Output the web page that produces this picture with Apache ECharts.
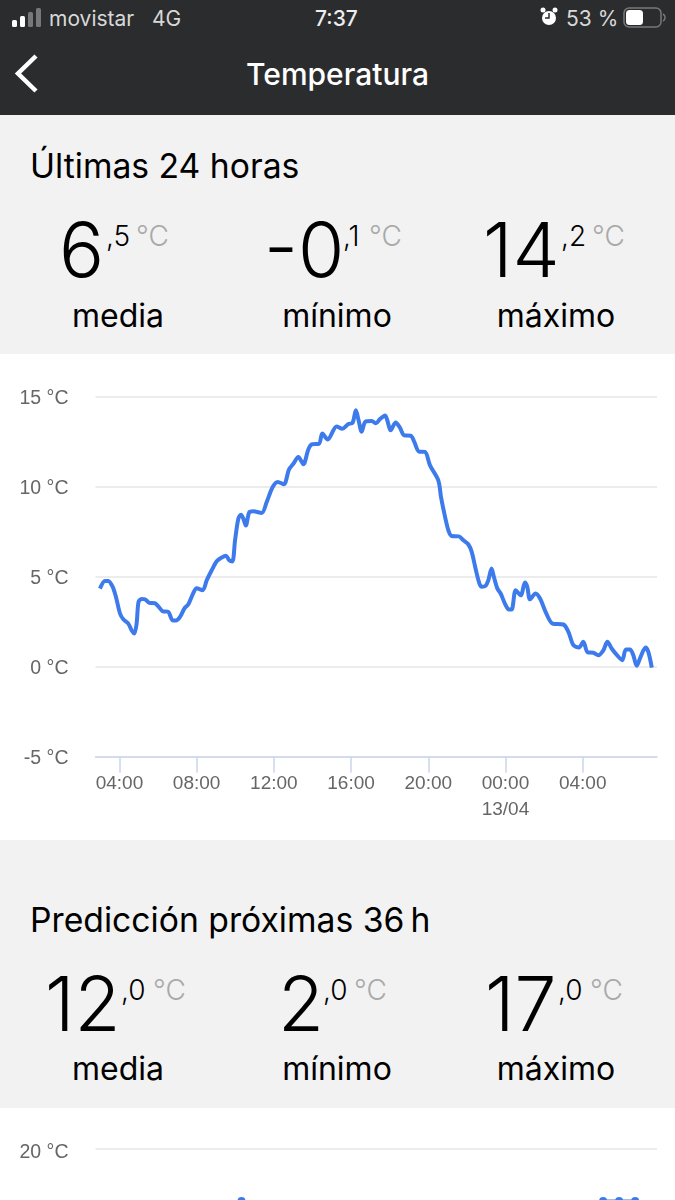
<!DOCTYPE html>
<html>
<head>
<meta charset="utf-8">
<title>Temperatura</title>
<script src="https://cdn.jsdelivr.net/npm/echarts@6/dist/echarts.min.js"></script>
<style>
html, body { margin: 0; padding: 0; }
body { position: relative; width: 675px; height: 1200px; overflow: hidden; background: #fff; font-family: Inter, Roboto, sans-serif; color: #000; }
.band { position: absolute; left: 0; width: 675px; background: #f2f2f2; }
.t { position: absolute; white-space: nowrap; line-height: 1; }
.bar { position: absolute; left: 0; top: 0; width: 675px; height: 115px; background: #2b2c2e; color: #fff; }
.status { font-size: 21px; color: #d8d8d8; }
.heading { left: 30px; font-size: 33.7px; font-weight: 430; }
.big { font-size: 75px; font-weight: 300; }
.small { font-size: 28px; font-weight: 300; }
.unit { font-size: 28px; font-weight: 300; color: #a9a9a9; }
.lab { font-size: 32px; width: 200px; text-align: center; }
#chart1 { position: absolute; left: 0; top: 354px; width: 675px; height: 486px; }
#chart2 { position: absolute; left: 0; top: 1108px; width: 675px; height: 460px; }
</style>
</head>
<body>
<div class="bar">
    <svg style="position:absolute;left:0;top:0" width="675" height="115">
        <rect x="12" y="20" width="5" height="7" rx="1.5" fill="#fff"/>
        <rect x="20" y="16" width="5" height="11" rx="1.5" fill="#fff"/>
        <rect x="28" y="12" width="5" height="15" rx="1.5" fill="#77787a"/>
        <rect x="36" y="8" width="5" height="19" rx="1.5" fill="#77787a"/>
        <path d="M36 56 L18 73.5 L36 91" fill="none" stroke="#fff" stroke-width="4.5"/>
        <circle cx="549" cy="18" r="7" fill="#fff"/>
        <path d="M549 13 V18 H545" fill="none" stroke="#2b2c2e" stroke-width="1.5"/>
        <circle cx="543" cy="10" r="2.5" fill="#fff"/>
        <circle cx="555" cy="10" r="2.5" fill="#fff"/>
        <rect x="624" y="8" width="37" height="19" rx="5" fill="none" stroke="#77787a" stroke-width="1.5"/>
        <rect x="626" y="10" width="17" height="15" rx="3.5" fill="#fff"/>
        <path d="M663 14 a4 4 0 0 1 0 7" fill="none" stroke="#77787a" stroke-width="1.5"/>
    </svg>
    <div class="t status" style="left:49px;top:8px">movistar</div>
    <div class="t status" style="left:152px;top:8px">4G</div>
    <div class="t status" style="left:315px;top:8px;font-weight:500;color:#eee">7:37</div>
    <div class="t status" style="left:566px;top:8px">53 %</div>
    <div class="t" style="left:0;width:675px;text-align:center;top:59px;font-size:30px;font-weight:500">Temperatura</div>
</div>

<div class="band" style="top:115px;height:239px"></div>
<div class="t heading" style="top:149px">Últimas 24 horas</div>
<div class="t big" style="left:59px;top:212px">6</div>
<div class="t small" style="left:106px;top:222px">,5</div>
<div class="t unit" style="left:136px;top:222px">°C</div>
<div class="t big" style="left:264px;top:212px">-0</div>
<div class="t small" style="left:343px;top:222px">,1</div>
<div class="t unit" style="left:369px;top:222px">°C</div>
<div class="t big" style="left:483px;top:212px">14</div>
<div class="t small" style="left:561px;top:222px">,2</div>
<div class="t unit" style="left:592px;top:222px">°C</div>
<div class="t lab" style="left:18px;top:300px">media</div>
<div class="t lab" style="left:237px;top:300px">mínimo</div>
<div class="t lab" style="left:456px;top:300px">máximo</div>

<div id="chart1"></div>

<div class="band" style="top:840px;height:268px"></div>
<div class="t heading" style="top:903px">Predicción próximas 36&thinsp;h</div>
<div class="t big" style="left:45px;top:966px">12</div>
<div class="t small" style="left:121px;top:976px">,0</div>
<div class="t unit" style="left:153px;top:976px">°C</div>
<div class="t big" style="left:278px;top:966px">2</div>
<div class="t small" style="left:323px;top:976px">,0</div>
<div class="t unit" style="left:354px;top:976px">°C</div>
<div class="t big" style="left:485px;top:966px">17</div>
<div class="t small" style="left:558px;top:976px">,0</div>
<div class="t unit" style="left:590px;top:976px">°C</div>
<div class="t lab" style="left:18px;top:1053px">media</div>
<div class="t lab" style="left:237px;top:1053px">mínimo</div>
<div class="t lab" style="left:456px;top:1053px">máximo</div>

<div id="chart2"></div>

<script>
// ultimas 24 horas (hours counted from 00:00 of the first day)
var pastHours = [2.99, 3.25, 3.42, 3.65, 3.82, 4.03, 4.20, 4.46, 4.63, 4.77, 4.89, 4.99, 5.15, 5.32, 5.55, 5.84, 6.01, 6.24, 6.53, 6.74,
    6.93, 7.14, 7.36, 7.57, 7.83, 8.00, 8.31, 8.52, 8.78, 9.04, 9.29, 9.52, 9.69, 9.85, 9.99, 10.16, 10.30, 10.42, 10.55, 10.73,
    10.93, 11.37, 11.63, 11.94, 12.20, 12.52, 12.78, 13.01, 13.27, 13.53, 13.78, 13.96, 14.34, 14.51, 14.79, 15.25, 15.55, 15.86, 16.08, 16.25,
    16.39, 16.55, 16.74, 17.07, 17.29, 17.50, 17.76, 17.88, 18.05, 18.31, 18.53, 18.76, 19.09, 19.28, 19.52, 19.83, 20.09, 20.52, 20.66, 20.87,
    21.04, 21.21, 21.59, 21.82, 22.07, 22.25, 22.47, 22.65, 22.77, 22.97, 23.11, 23.28, 23.40, 23.58, 23.75, 23.97, 24.18, 24.32, 24.53, 24.79,
    25.01, 25.13, 25.27, 25.56, 25.79, 26.13, 26.44, 27.00, 27.26, 27.52, 27.81, 28.03, 28.26, 28.55, 28.81, 29.07, 29.28, 29.50, 29.85, 30.05,
    30.24, 30.45, 30.62, 30.80, 31.00, 31.26, 31.40, 31.58];
var pastTemps = [4.33, 4.76, 4.76, 4.43, 3.87, 2.95, 2.63, 2.39, 2.02, 1.84, 2.39, 3.59, 3.76, 3.74, 3.54, 3.52, 3.35, 3.08, 3.04, 2.58,
    2.56, 2.76, 3.22, 3.46, 4.09, 4.35, 4.24, 4.79, 5.35, 5.85, 6.05, 6.16, 5.90, 5.83, 7.01, 8.21, 8.43, 8.21, 7.83, 8.58,
    8.62, 8.53, 9.14, 9.97, 10.25, 10.12, 10.93, 11.26, 11.63, 11.23, 12.04, 12.33, 12.37, 12.93, 12.61, 13.33, 13.20, 13.46, 13.53, 14.22,
    13.67, 13.04, 13.59, 13.63, 13.50, 13.74, 13.94, 13.66, 13.11, 13.54, 13.26, 12.83, 12.81, 12.46, 11.93, 11.91, 11.17, 10.34, 9.41, 8.31,
    7.57, 7.25, 7.23, 7.01, 6.79, 6.37, 5.35, 4.61, 4.43, 4.48, 4.79, 5.44, 4.98, 4.33, 4.06, 3.50, 3.17, 3.17, 4.24, 3.96,
    4.67, 4.43, 3.74, 4.06, 3.78, 2.91, 2.39, 2.34, 1.93, 1.19, 1.06, 1.38, 0.79, 0.77, 0.64, 0.91, 1.38, 1.01, 0.55, 0.36,
    0.95, 0.95, 0.64, 0.05, 0.55, 1.06, 0.82, -0.05];
var hourTicks = [4, 8, 12, 16, 20, 24, 28];
var hourLabels = ['04:00', '08:00', '12:00', '16:00', '20:00', '00:00\n13/04', '04:00'];

// prediccion: only the tops of the curve are in the picture
var nextHours = [7.1, 8.1, 9.1, 10.1, 11.1, 29.64, 30.64, 31.64, 32.64, 33.64, 34.64];
var nextTemps = [15, 16, 17, 16, 15, 15, 16, 17, 17, 17, 16];

var blue = '#3d7bec';
var gridColor = '#e6e6e6';
var labelFont = { color: '#666666', fontFamily: '"Liberation Sans", Arial, sans-serif', fontSize: 19 };

function toPairs(xs, ys) {
    var out = [];
    for (var i = 0; i < xs.length; i++) {
        out.push([xs[i], ys[i]]);
    }
    return out;
}

var chart1 = echarts.init(document.getElementById('chart1'));
chart1.setOption({
    animation: false,
    backgroundColor: '#ffffff',
    grid: { left: 95.5, right: 18, top: 42.3, height: 360.5 },
    xAxis: {
        type: 'value',
        min: 2.76,
        max: 31.85,
        splitLine: { show: false },
        axisLine: { show: true, onZero: false, lineStyle: { color: '#ccd6eb', width: 1.5 } },
        axisTick: { show: true, length: 16, customValues: hourTicks, lineStyle: { color: '#ccd6eb', width: 1.5 } },
        axisLabel: {
            show: true,
            customValues: hourTicks,
            margin: 14,
            lineHeight: 26,
            color: labelFont.color,
            fontFamily: labelFont.fontFamily,
            fontSize: labelFont.fontSize,
            formatter: function(value) {
                return hourLabels[hourTicks.indexOf(value)];
            }
        }
    },
    yAxis: {
        type: 'value',
        min: -5,
        max: 15,
        interval: 5,
        axisLine: { show: false },
        axisTick: { show: false },
        splitLine: { lineStyle: { color: gridColor, width: 1.5 } },
        axisLabel: {
            margin: 27,
            verticalAlign: 'top',
            lineHeight: 4,
            color: labelFont.color,
            fontFamily: labelFont.fontFamily,
            fontSize: 19.5,
            formatter: '{value} °C'
        }
    },
    series: [{
        name: 'Temperatura',
        type: 'line',
        data: toPairs(pastHours, pastTemps),
        smooth: 0.3,
        showSymbol: false,
        lineStyle: { color: blue, width: 4 }
    }]
});

var chart2 = echarts.init(document.getElementById('chart2'));
chart2.setOption({
    animation: false,
    backgroundColor: '#ffffff',
    grid: { left: 95.5, right: 18, top: 40.5, height: 350 },
    xAxis: { type: 'value', min: 0, max: 35, show: false },
    yAxis: {
        type: 'value',
        min: 0,
        max: 20,
        interval: 5,
        axisLine: { show: false },
        axisTick: { show: false },
        splitLine: { lineStyle: { color: gridColor, width: 1.5 } },
        axisLabel: {
            margin: 27,
            verticalAlign: 'top',
            lineHeight: 8,
            color: labelFont.color,
            fontFamily: labelFont.fontFamily,
            fontSize: 19.5,
            formatter: '{value} °C'
        }
    },
    series: [{
        name: 'Predicción',
        type: 'line',
        data: toPairs(nextHours, nextTemps),
        showSymbol: true,
        showAllSymbol: true,
        symbol: 'circle',
        symbolSize: 8,
        itemStyle: { color: blue },
        lineStyle: { color: blue, width: 3 }
    }]
});
</script>
</body>
</html>
